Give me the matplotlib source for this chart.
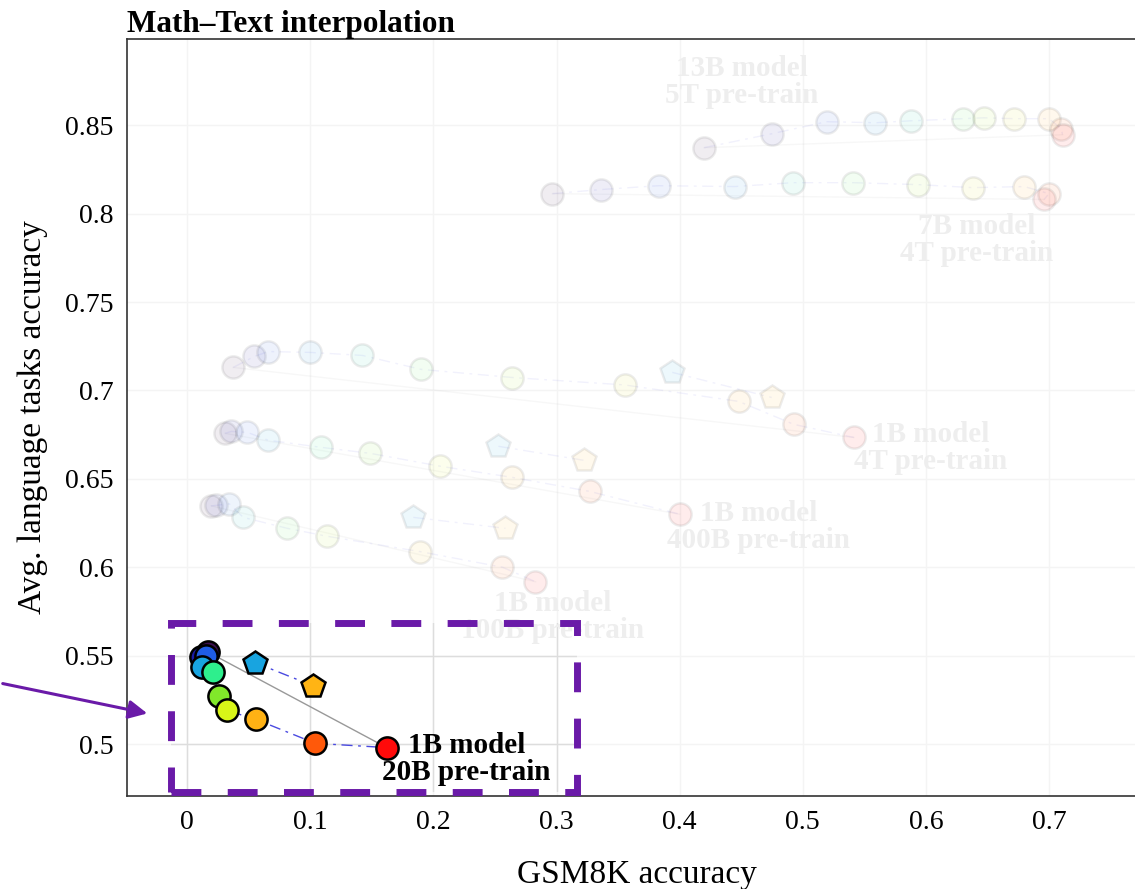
import matplotlib
matplotlib.use("Agg")
import matplotlib.pyplot as plt
from matplotlib.colors import LinearSegmentedColormap
from matplotlib.patches import Rectangle
import numpy as np

plt.rcParams['font.family'] = ['Liberation Serif', 'DejaVu Serif']

# ---- datos ----
# 1B / 20B (serie resaltada)
x_20b = [0.017, 0.011, 0.015, 0.012, 0.021, 0.026, 0.032, 0.0556, 0.104, 0.162]
y_20b = [0.552, 0.549, 0.550, 0.5437, 0.5405, 0.527, 0.519, 0.514, 0.5004, 0.498]
xp_20b = [0.0553, 0.102]
yp_20b = [0.546, 0.533]

# series atenuadas
x_13b = [0.420, 0.475, 0.5195, 0.559, 0.588, 0.630, 0.647, 0.6715, 0.700, 0.710, 0.711]
y_13b = [0.8373, 0.8452, 0.852, 0.8514, 0.8525, 0.8537, 0.8542, 0.8537, 0.8537, 0.848, 0.8446]

x_7b = [0.2967, 0.3358, 0.383, 0.4447, 0.492, 0.5407, 0.594, 0.638, 0.680, 0.700, 0.696]
y_7b = [0.8113, 0.8136, 0.8158, 0.8153, 0.8175, 0.8175, 0.8164, 0.8147, 0.8153, 0.8113, 0.808]

x_4t = [0.0374, 0.0545, 0.0659, 0.100, 0.1423, 0.190, 0.2642, 0.3553, 0.448, 0.4927, 0.5415]
y_4t = [0.713, 0.7192, 0.722, 0.7215, 0.7198, 0.7119, 0.7073, 0.7031, 0.6938, 0.6808, 0.6734]
xp_4t = [0.394, 0.4748]
yp_4t = [0.7102, 0.696]

x_400b = [0.0309, 0.0358, 0.0488, 0.0659, 0.1089, 0.1488, 0.2057, 0.2642, 0.3268, 0.400]
y_400b = [0.6757, 0.6768, 0.6763, 0.6718, 0.6678, 0.6644, 0.6571, 0.6508, 0.6429, 0.630]
xp_400b = [0.2528, 0.322]
yp_400b = [0.6684, 0.6605]

x_100b = [0.0195, 0.0236, 0.0341, 0.0455, 0.0813, 0.1138, 0.1894, 0.2561, 0.2829]
y_100b = [0.6347, 0.635, 0.6359, 0.6282, 0.622, 0.6175, 0.6088, 0.600, 0.5918]
xp_100b = [0.1837, 0.2585]
yp_100b = [0.6282, 0.622]

x_ticks = [0, 0.1, 0.2, 0.3, 0.4, 0.5, 0.6, 0.7]
x_ticklabels = ['0', '0.1', '0.2', '0.3', '0.4', '0.5', '0.6', '0.7']
y_ticks = [0.5, 0.55, 0.6, 0.65, 0.7, 0.75, 0.8, 0.85]
y_ticklabels = ['0.5', '0.55', '0.6', '0.65', '0.7', '0.75', '0.8', '0.85']

# colores de la mezcla (texto -> matemática)
mix_colors = ['#3b0f4f', '#1a1aa8', '#1f5fe6', '#18a4e0', '#2ef08c',
              '#80e82a', '#d8f518', '#ffb414', '#ff5a0a', '#ff0a0a']
cmap = LinearSegmentedColormap.from_list('mix', mix_colors)
pent_colors = ['#18a4e0', '#ffb414']

CHAIN = (0, (8, 4, 2, 4))
PURPLE = '#6a1aa8'


def draw_series(ax, xs, ys, xp=None, yp=None, alpha=1.0, z=3):
    cols = cmap(np.linspace(0, 1, len(xs)))
    ax.plot([xs[0], xs[-1]], [ys[0], ys[-1]], '-', color='#999999', lw=1,
            alpha=alpha, zorder=z)
    ax.plot(xs, ys, linestyle=CHAIN, color='#4a4ae0', lw=1, alpha=alpha, zorder=z)
    if xp is not None:
        ax.plot(xp, yp, linestyle=CHAIN, color='#4a4ae0', lw=1, alpha=alpha, zorder=z)
    for xi, yi, c in zip(xs, ys, cols):
        ax.plot(xi, yi, 'o', ms=16, mfc=c, mec='black', mew=1.8, alpha=alpha,
                zorder=z + 1)
    if xp is not None:
        for xi, yi, c in zip(xp, yp, pent_colors):
            ax.plot(xi, yi, 'p', ms=18, mfc=c, mec='black', mew=1.8, alpha=alpha,
                    zorder=z + 1)


fig = plt.figure(figsize=(11.35, 8.89), dpi=100)
ax = fig.add_axes([0.112, 0.1046, 0.899, 0.852])

ax.set_xlim(-0.0488, 0.78)
ax.set_ylim(0.4706, 0.899)
ax.grid(True, color='#f4f4f4', lw=1, zorder=0)
ax.set_axisbelow(True)

# rejilla visible dentro del recuadro
box = Rectangle((-0.013, 0.4729), 0.33, 0.0955, transform=ax.transData)
for xv in x_ticks:
    ln = ax.axvline(xv, color='#dddddd', lw=1, zorder=1)
    ln.set_clip_path(box)
for yv in y_ticks:
    ln = ax.axhline(yv, color='#dddddd', lw=1, zorder=1)
    ln.set_clip_path(box)

fade = 0.075
draw_series(ax, x_13b, y_13b, alpha=fade)
draw_series(ax, x_7b, y_7b, alpha=fade)
draw_series(ax, x_4t, y_4t, xp_4t, yp_4t, alpha=fade)
draw_series(ax, x_400b, y_400b, xp_400b, yp_400b, alpha=fade)
draw_series(ax, x_100b, y_100b, xp_100b, yp_100b, alpha=fade)

faded_txt = dict(ha='center', va='center', fontsize=21, fontweight='bold',
                 color='#eeeeee', linespacing=1.0, zorder=2)
ax.text(0.4504, 0.8746, '13B model\n5T pre-train', **faded_txt)
ax.text(0.6415, 0.7853, '7B model\n4T pre-train', **faded_txt)
ax.text(0.604, 0.6672, '1B model\n4T pre-train', **faded_txt)
ax.text(0.4642, 0.6226, '1B model\n400B pre-train', **faded_txt)
ax.text(0.2967, 0.5718, '1B model\n100B pre-train', **faded_txt)

# serie resaltada
draw_series(ax, x_20b, y_20b, xp_20b, yp_20b, alpha=1.0, z=6)
ax.text(0.2268, 0.4915, '1B model\n20B pre-train', ha='center', va='center',
        fontsize=21, fontweight='bold', color='black', linespacing=1.0, zorder=9)

# recuadro punteado y flecha
ax.add_patch(Rectangle((-0.013, 0.4729), 0.33, 0.0955, fill=False, ec=PURPLE,
                       lw=5, linestyle=(0, (4.3, 3.8)), clip_on=False, zorder=10))
ax.annotate('', xy=(150 / 1135, 1 - 714 / 889), xytext=(0, 1 - 683 / 889),
            xycoords='figure fraction', textcoords='figure fraction',
            arrowprops=dict(arrowstyle='-|>', color=PURPLE, lw=2.2,
                            mutation_scale=28), annotation_clip=False)

ax.set_xticks(x_ticks)
ax.set_xticklabels(x_ticklabels)
ax.set_yticks(y_ticks)
ax.set_yticklabels(y_ticklabels)
ax.tick_params(length=0, labelsize=20, pad=10)

ax.set_xlabel('GSM8K accuracy', fontsize=24, labelpad=18)
ax.set_ylabel('Avg. language tasks accuracy', fontsize=24, labelpad=12)
ax.set_title('Math\u2013Text interpolation', loc='left', fontsize=22.5,
             fontweight='bold', pad=2)

for s in ['left', 'bottom', 'top']:
    ax.spines[s].set_color('#333333')
    ax.spines[s].set_linewidth(1.2)
ax.spines['right'].set_visible(False)

fig.savefig('out.png', dpi=100)
